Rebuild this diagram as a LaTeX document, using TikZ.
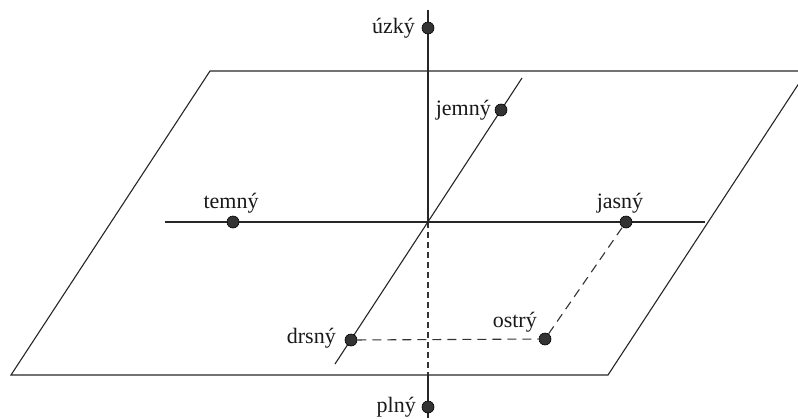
\documentclass[tikz,border=0pt]{standalone}
\usepackage{fontspec}
\setmainfont{Liberation Serif}
\begin{document}
\begin{tikzpicture}[x=1pt,y=-1pt,
  axis/.style={line width=1.1pt, draw=black!85},
  dsh/.style={line width=1.1pt, dash pattern=on 9pt off 6pt, draw=black!80},
  dot/.style={circle, fill=black!80, draw=black, line width=0.6pt, inner sep=0pt, minimum size=12pt},
  lbl/.style={font=\fontsize{22}{25}\selectfont, inner sep=0pt, text=black!90}]
\useasboundingbox (0,0) rectangle (798,418);
\clip (0,0) rectangle (798,418);
% plane corners
\coordinate (p1) at (210,71);
\coordinate (p2) at (807,71);
\coordinate (p3) at (608,375);
\coordinate (p4) at (11,375);
\draw[axis] (p1) -- (p2) -- (p3) -- (p4) -- cycle;
% axes
\coordinate (O) at (428,222);
\coordinate (vt) at (428,10);
\coordinate (vb) at (428,375);
\coordinate (vend) at (428,418);
\coordinate (hl) at (165,222);
\coordinate (hr) at (705,222);
\coordinate (dt) at (522,78);
\coordinate (db) at (335,364);
\draw[axis] (vt) -- (O);
\draw[dsh, dash pattern=on 6pt off 4pt] (O) -- (vb);
\draw[axis] (vb) -- (vend);
\draw[axis] (hl) -- (hr);
\draw[axis] (dt) -- (db);
% points
\node[dot] (uzky) at (428,28) {};
\node[dot] (jemny) at (501,110) {};
\node[dot] (temny) at (233,222) {};
\node[dot] (jasny) at (626,222) {};
\node[dot] (drsny) at (351,340) {};
\node[dot] (ostry) at (545,339) {};
\node[dot] (plny) at (428,407) {};
\draw[dsh] (drsny) -- (ostry);
\draw[dsh] (ostry) -- (jasny);
% labels
\node[lbl, anchor=base east] (luzky) at (415,33) {úzký};
\node[lbl, anchor=base east] (ljemny) at (491,115) {jemný};
\node[lbl, anchor=base] (ltemny) at (231,208) {temný};
\node[lbl, anchor=base] (ljasny) at (620,208) {jasný};
\node[lbl, anchor=base east] (ldrsny) at (336,343) {drsný};
\node[lbl, anchor=base east] (lostry) at (537,327) {ostrý};
\node[lbl, anchor=base east] (lplny) at (416,412) {plný};
\end{tikzpicture}
\end{document}
